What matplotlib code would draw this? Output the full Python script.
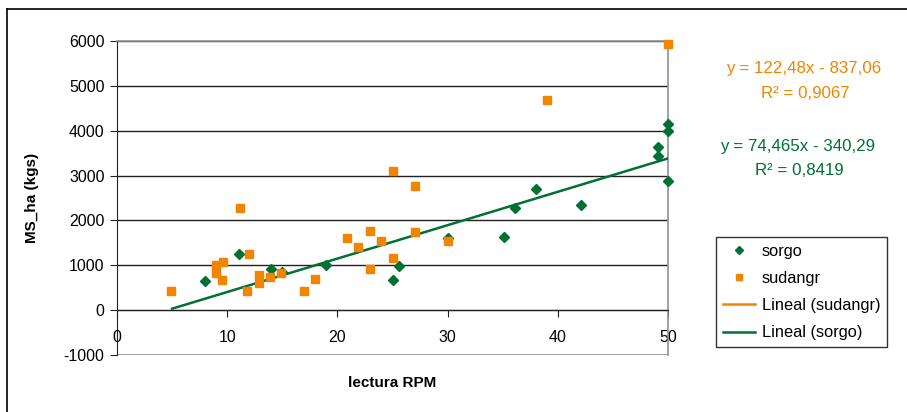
import matplotlib
matplotlib.use("Agg")
import matplotlib.pyplot as plt
from matplotlib.lines import Line2D
import numpy as np

plt.rcParams['font.family'] = ['Liberation Sans', 'DejaVu Sans']
plt.rcParams['axes.unicode_minus'] = False

# sorgo (green diamonds)
sorgo_x = [8, 11.1, 14, 15, 19, 25, 25.6, 30, 35.1, 36.1, 38, 42.1, 49.1, 49.1, 50, 50, 50]
sorgo_y = [654, 1257, 922, 848, 998, 663, 982, 1614, 1623, 2270, 2694, 2344, 3645, 3437, 4145, 3995, 2872]

# sudangr (orange squares)
sudan_x = [4.9, 9, 9, 9.5, 9.6, 11.2, 12, 11.8, 12.9, 12.9, 13.9, 14.9, 17, 18, 20.9,
           21.9, 23, 23, 24, 25, 25, 27, 27, 30, 39, 50]
sudan_y = [417, 998, 833, 663, 1065, 2283, 1257, 417, 788, 609, 737, 826, 417, 692, 1614,
           1413, 1757, 915, 1533, 1161, 3109, 2761, 1734, 1533, 4694, 5937]

# trendline coefficients shown on the chart
sorgo_fit = (74.465, -340.29)
sudan_fit = (122.48, -837.06)
trend_x = [5, 50]

green = '#007033'
orange = '#F28500'

fig = plt.figure(figsize=(9.07, 4.12), dpi=100)
ax = fig.add_axes([117/907, 1-355/412, (668-117)/907, (355-41)/412])

for y in range(0, 7000, 1000):
    ax.axhline(y, color='#202020', lw=1, zorder=1)
ax.axhline(-1000, color='#909090', lw=1.2, zorder=1)

tx = np.array(trend_x)
ax.plot(tx, sorgo_fit[0]*tx + sorgo_fit[1], color=green, lw=1.8, zorder=3)
ax.plot(sorgo_x, sorgo_y, 'D', color=green, ms=5, ls='none', zorder=4, clip_on=False)
ax.plot(sudan_x, sudan_y, 's', color=orange, ms=5.5, ls='none', zorder=4, clip_on=False)

ax.set_xlim(0, 50)
ax.set_ylim(-1000, 6000)
ax.set_xticks(range(0, 51, 10))
ax.set_yticks(range(-1000, 6001, 1000))

ax.spines['bottom'].set_position(('data', 0))
ax.spines['bottom'].set_color('#202020')
ax.spines['left'].set_color('#202020')
ax.spines['top'].set_color('#909090')
ax.spines['top'].set_linewidth(1.2)
ax.spines['right'].set_color('#909090')
ax.spines['right'].set_linewidth(1.2)

ax.tick_params(axis='x', direction='out', length=5, pad=9, labelsize=11.5, color='#202020')
ax.tick_params(axis='y', direction='out', length=5, pad=4, labelsize=11.5, color='#202020')

fig.text(32/907, 1-198/412, 'MS_ha (kgs)', rotation=90, ha='center', va='center',
         fontsize=11, fontweight='bold')
fig.text(392/907, 1-383/412, 'lectura RPM', ha='center', va='center',
         fontsize=11, fontweight='bold')

fig.text(804/907, 1-69/412, 'y = 122,48x - 837,06', ha='center', va='center',
         fontsize=12.2, color=orange)
fig.text(805/907, 1-94/412, 'R² = 0,9067', ha='center', va='center',
         fontsize=12.2, color=orange)
fig.text(798/907, 1-146/412, 'y = 74,465x - 340,29', ha='center', va='center',
         fontsize=12.2, color=green)
fig.text(799/907, 1-171/412, 'R² = 0,8419', ha='center', va='center',
         fontsize=12.2, color=green)

handles = [
    Line2D([], [], marker='D', color=green, ms=4.5, ls='none'),
    Line2D([], [], marker='s', color=orange, ms=5, ls='none'),
    Line2D([], [], color=orange, lw=1.8),
    Line2D([], [], color=green, lw=1.8),
]
labels = ['sorgo', 'sudangr', 'Lineal (sudangr)', 'Lineal (sorgo)']
leg = fig.legend(handles, labels, loc='upper left', bbox_to_anchor=(716/907, 1-237/412),
                 fontsize=11.8, frameon=True, fancybox=False, edgecolor='black',
                 handlelength=2.0, handletextpad=0.4, labelspacing=0.75,
                 borderpad=0.4, borderaxespad=0)
leg.get_frame().set_linewidth(1)

# outer chart frame
fig.add_artist(Line2D([7/907, 7/907], [-0.1, 1-9/412], color='black', lw=1.2))
fig.add_artist(Line2D([7/907, 1.1], [1-9/412, 1-9/412], color='black', lw=1.2))

fig.savefig('out.png', dpi=100)
